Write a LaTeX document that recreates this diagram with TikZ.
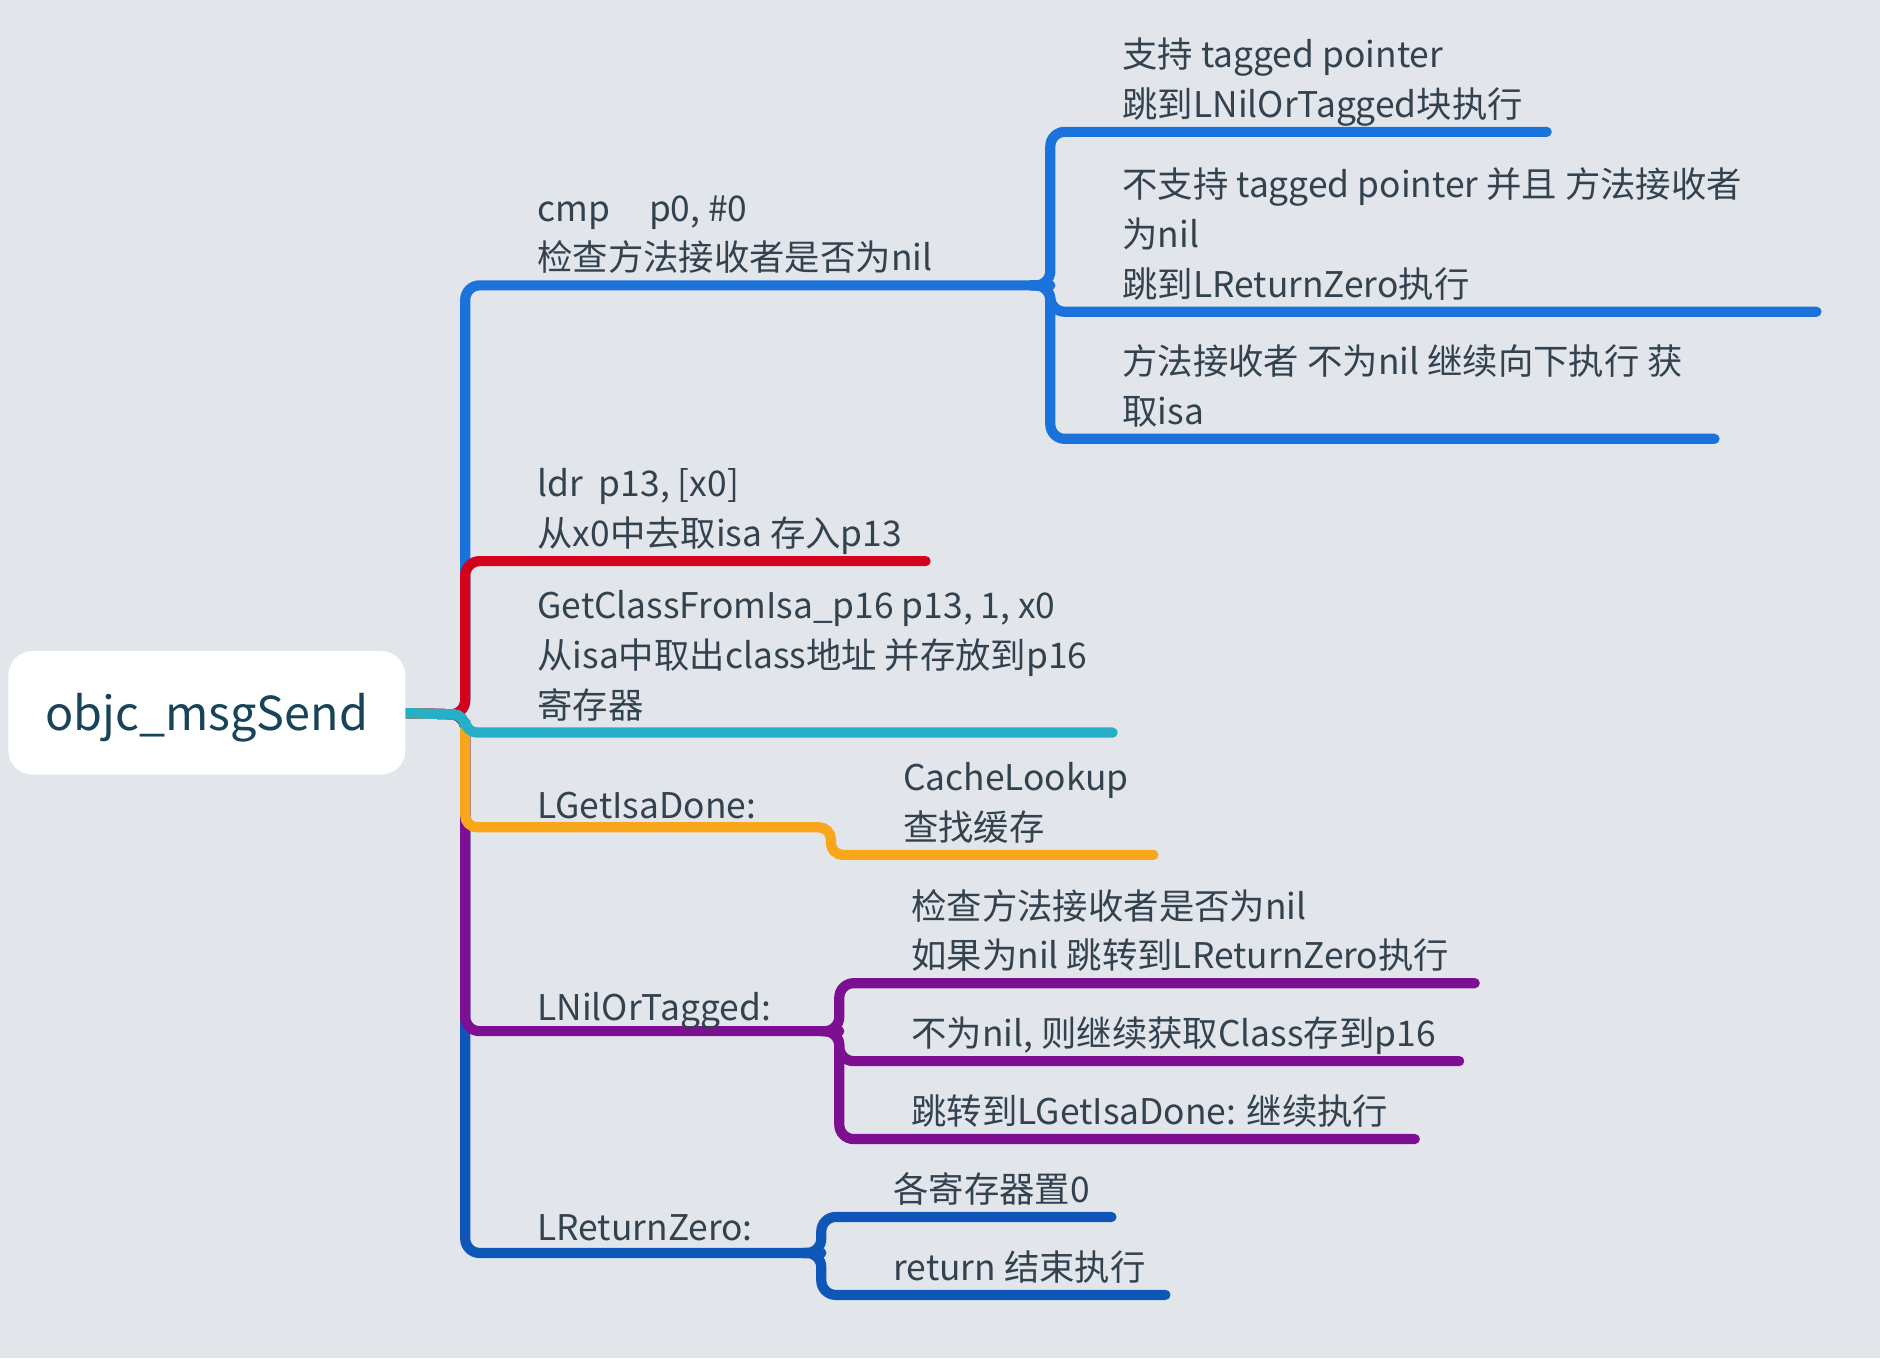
\documentclass[tikz,border=0pt]{standalone}
\usepackage{fontspec}
\setmainfont{Noto Sans CJK SC}
\definecolor{bgc}{HTML}{E2E6EB}
\definecolor{txtc}{HTML}{33424F}
\definecolor{rootc}{HTML}{184459}
\definecolor{cblue}{HTML}{1A72DA}
\definecolor{cred}{HTML}{D2021D}
\definecolor{ccyan}{HTML}{27AFC7}
\definecolor{corange}{HTML}{F9A71A}
\definecolor{cpurple}{HTML}{7D0F93}
\definecolor{cdblue}{HTML}{0E57B8}
\pgfdeclarelayer{back}
\pgfdeclarelayer{lines}
\pgfsetlayers{back,lines,main}
\begin{document}
\begin{tikzpicture}[x=1pt,y=-1pt,
  br/.style={line width=8.5pt, line cap=round, rounded corners=12pt},
  txt/.style={anchor=base west, inner sep=0pt, align=left, text=txtc,
    font=\fontsize{29.5}{41.5}\selectfont},
  rootbox/.style={fill=white, rounded corners=20pt, minimum width=331pt,
    minimum height=103pt, inner sep=0pt, text=rootc, text height=37pt, text depth=8pt,
    font=\fontsize{39}{45}\selectfont}]
\begin{pgfonlayer}{back}
\fill[bgc] (0,0) rectangle (1568,1133);
\end{pgfonlayer}
\useasboundingbox (0,0) rectangle (1568,1133);

\node[rootbox] (root) at (172.5,594.5) {objc\_msgSend};

% junction coordinates
\coordinate (j0) at (388,596);
\coordinate (b1) at (876,238);
\coordinate (b5) at (700,860);
\coordinate (b6) at (685,1045);

\begin{pgfonlayer}{lines}
% branch 1 (blue)
\draw[br, cblue] ([xshift=-10pt]root.east) -- (j0) -- (388,238) -- (b1);
\draw[br, cblue] (860,238) -- (b1) -- (876,110) -- (1290,110);
\draw[br, cblue] (860,238) -- (b1) -- (876,260) -- (1515,260);
\draw[br, cblue] (860,238) -- (b1) -- (876,366) -- (1430,366);
% branch 6 (dark blue)
\draw[br, cdblue] ([xshift=-10pt]root.east) -- (j0) -- (388,1045) -- (b6);
\draw[br, cdblue] (670,1045) -- (b6) -- (685,1015) -- (927,1015);
\draw[br, cdblue] (670,1045) -- (b6) -- (685,1080) -- (972,1080);
% branch 5 (purple)
\draw[br, cpurple] ([xshift=-10pt]root.east) -- (j0) -- (388,860) -- (b5);
\draw[br, cpurple] (685,860) -- (b5) -- (700,820) -- (1230,820);
\draw[br, cpurple] (685,860) -- (b5) -- (700,885) -- (1217,885);
\draw[br, cpurple] (685,860) -- (b5) -- (700,950) -- (1180,950);
% branch 2 (red)
\draw[br, cred] ([xshift=-10pt]root.east) -- (j0) -- (388,468) -- (772,468);
% branch 4 (orange)
\draw[br, corange, rounded corners=10pt] ([xshift=-10pt]root.east) -- (j0) -- (388,690) -- (693,690) -- (693,713) -- (962,713);
% branch 3 (cyan)
\draw[br, ccyan, rounded corners=10pt] ([xshift=-10pt]root.east) -- (j0) -- (388,611) -- (928,611);
\end{pgfonlayer}

% texts
\node[txt] (n1) at (448,226) {cmp\hspace{1.1em}p0, \#0\\检查方法接收者是否为nil};
\node[txt] (n1a) at (936,98) {支持 tagged pointer\\跳到LNilOrTagged块执行};
\node[txt] (n1b) at (936,248) {不支持 tagged pointer 并且 方法接收者\\为nil\\跳到LReturnZero执行};
\node[txt] (n1c) at (936,354) {方法接收者 不为nil 继续向下执行 获\\取isa};
\node[txt] (n2) at (448,456) {ldr~~p13, [x0]\\从x0中去取isa 存入p13};
\node[txt] (n3) at (448,599) {GetClassFromIsa\_p16 p13, 1, x0\\从isa中取出class地址 并存放到p16\\寄存器};
\node[txt] (n4) at (448,683) {LGetIsaDone:};
\node[txt] (n4a) at (753,701) {CacheLookup\\查找缓存};
\node[txt] (n5) at (448,851) {LNilOrTagged:};
\node[txt] (n5a) at (760,808) {检查方法接收者是否为nil\\如果为nil 跳转到LReturnZero执行};
\node[txt] (n5b) at (760,873) {不为nil, 则继续获取Class存到p16};
\node[txt] (n5c) at (760,938) {跳转到LGetIsaDone: 继续执行};
\node[txt] (n6) at (448,1035) {LReturnZero:};
\node[txt] (n6a) at (745,1003) {各寄存器置0};
\node[txt] (n6b) at (745,1068) {return 结束执行};
\end{tikzpicture}
\end{document}
